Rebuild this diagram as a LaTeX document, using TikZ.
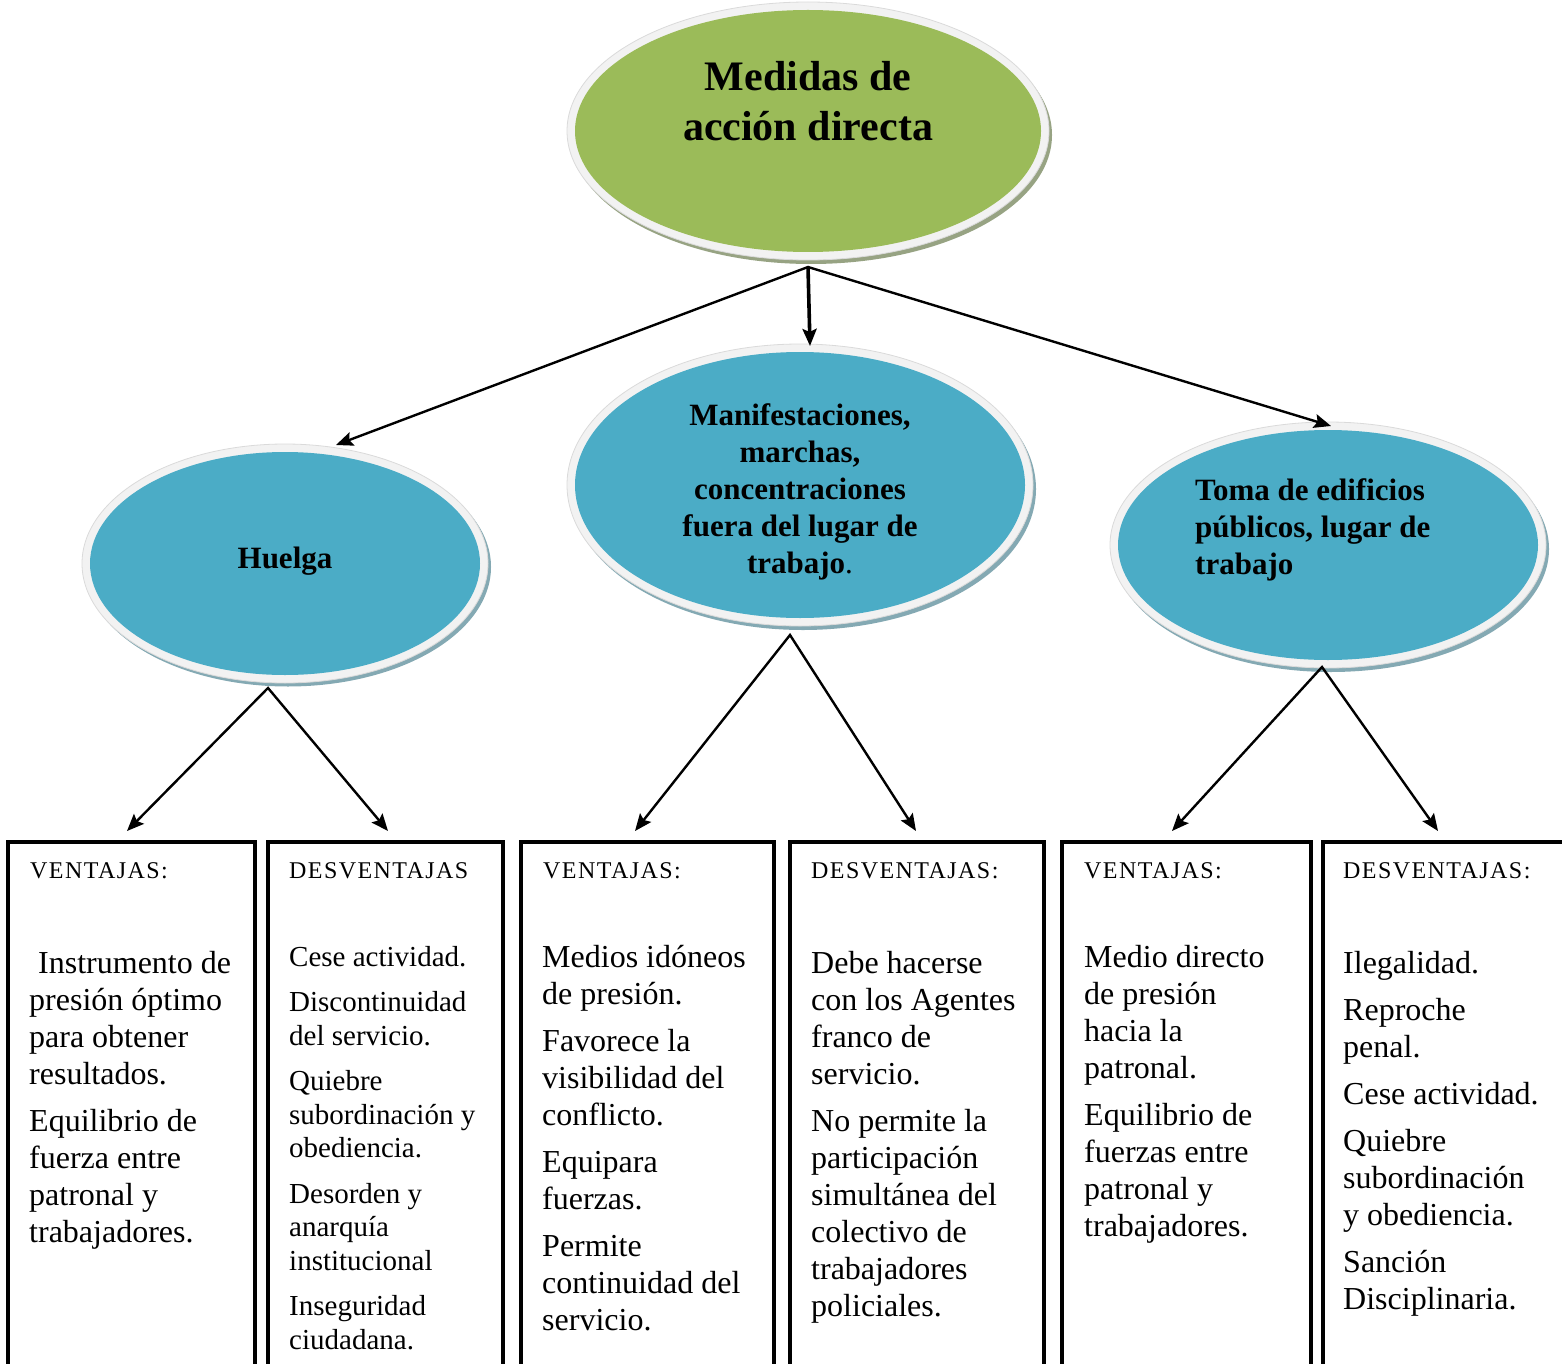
\documentclass[tikz,border=0pt]{standalone}
\usepackage{fontspec}
\setmainfont{Liberation Serif}
\newfontfamily\hdrfont[LetterSpace=6]{Liberation Serif}
\usetikzlibrary{shapes.geometric,arrows.meta,calc}
\definecolor{gfill}{HTML}{9BBB59}
\definecolor{bfill}{HTML}{4BACC6}
\definecolor{rimc}{HTML}{F2F2F2}
\definecolor{rimedge}{HTML}{DADADA}
\definecolor{gshad}{HTML}{97A383}
\definecolor{bshad}{HTML}{84A9B3}
\tikzset{
  oval/.style={ellipse, inner sep=0pt, draw=none},
  panel/.style={rectangle, draw=black, line width=4pt, inner sep=0pt, outer sep=0pt, anchor=north west, minimum height=560pt},
  hdr/.style={anchor=base west, inner sep=0pt, font=\hdrfont\fontsize{24}{28}\selectfont},
  body/.style={anchor=north west, inner sep=0pt, align=left, font=\fontsize{32}{37}\selectfont},
  title/.style={inner sep=0pt, align=center, font=\bfseries\fontsize{31}{37}\selectfont},
  tipk/.tip={Stealth[length=17pt,width=14pt,inset=3pt]},
  conn/.style={line width=2.4pt, line join=miter},
}
\begin{document}
\begin{tikzpicture}[x=1pt,y=-1pt]
\useasboundingbox (0,0) rectangle (1562,1364);
\clip (0,0) rectangle (1562,1364);

% ---- top ellipse
\fill[gshad] (811,135) ellipse [x radius=241, y radius=129];
\filldraw[fill=rimc, draw=rimedge, line width=0.8pt] (808,131) ellipse [x radius=241, y radius=129];
\node[oval, fill=gfill, minimum width=466pt, minimum height=242pt] (top) at (808,131) {};
\node[title, font=\bfseries\fontsize{42}{50}\selectfont, anchor=north] (toptxt) at (808,55) {\strut Medidas de\\acción directa};

% ---- Huelga
\fill[bshad] (288,567) ellipse [x radius=203, y radius=119.5];
\filldraw[fill=rimc, draw=rimedge, line width=0.8pt] (285,563.5) ellipse [x radius=203, y radius=119.5];
\node[oval, fill=bfill, minimum width=390pt, minimum height=223pt] (hue) at (285,563.5) {};
\node[title, anchor=base] (huetxt) at (285,568) {Huelga};

% ---- Manifestaciones
\fill[bshad] (803,489) ellipse [x radius=233, y radius=141];
\filldraw[fill=rimc, draw=rimedge, line width=0.8pt] (800,485) ellipse [x radius=233, y radius=141];
\node[oval, fill=bfill, minimum width=450pt, minimum height=266pt] (man) at (800,485) {};
\node[title, anchor=north] (mantxt) at (800,399) {\strut Manifestaciones,\\marchas,\\concentraciones\\fuera del lugar de\\trabajo{\mdseries .}};

% ---- Toma de edificios
\fill[bshad] (1331,549) ellipse [x radius=218, y radius=123];
\filldraw[fill=rimc, draw=rimedge, line width=0.8pt] (1328,545) ellipse [x radius=218, y radius=123];
\node[oval, fill=bfill, minimum width=420pt, minimum height=230pt] (tom) at (1328,545) {};
\node[title, anchor=north west, align=left] (tomtxt) at (1195,474) {\strut Toma de edificios\\públicos, lugar de\\trabajo};

% ---- connector points
\coordinate (topS) at (808,267);
\coordinate (hueT) at (336,445);
\coordinate (manT) at (810,346);
\coordinate (tomT) at (1331,426);
\coordinate (hueS) at (268,688);
\coordinate (manS) at (790,635);
\coordinate (tomS) at (1322,667);
\coordinate (b1T) at (127,831);
\coordinate (b2T) at (388,831);
\coordinate (b3T) at (635,831);
\coordinate (b4T) at (916,831);
\coordinate (b5T) at (1172,831);
\coordinate (b6T) at (1438,831);

\draw[conn, {tipk}-{tipk}] (hueT) -- (topS) -- (tomT);
\draw[conn, line width=3.6pt, -{tipk}] (topS) -- (manT);
\draw[conn, {tipk}-{tipk}] (b1T) -- (hueS) -- (b2T);
\draw[conn, {tipk}-{tipk}] (b3T) -- (manS) -- (b4T);
\draw[conn, {tipk}-{tipk}] (b5T) -- (tomS) -- (b6T);

% ---- panels
\node[panel, minimum width=247pt] (b1) at (8,842) {};
\node[panel, minimum width=235pt] (b2) at (268,842) {};
\node[panel, minimum width=253pt] (b3) at (521,842) {};
\node[panel, minimum width=254pt] (b4) at (790,842) {};
\node[panel, minimum width=249pt] (b5) at (1062,842) {};
\node[panel, minimum width=257pt] (b6) at (1323,842) {};

% ---- headers
\node[hdr] (h1) at (30,878) {VENTAJAS:};
\node[hdr] (h2) at (289,878) {DESVENTAJAS};
\node[hdr] (h3) at (543,878) {VENTAJAS:};
\node[hdr] (h4) at (811,878) {DESVENTAJAS:};
\node[hdr] (h5) at (1084,878) {VENTAJAS:};
\node[hdr] (h6) at (1343,878) {DESVENTAJAS:};

% ---- bodies
\node[body] (t1) at (29,947) {\strut\hspace*{9pt}Instrumento de\\presión óptimo\\para obtener\\resultados.\\[10pt]Equilibrio de\\fuerza entre\\patronal y\\trabajadores.};
\node[body, font=\fontsize{29}{33.5}\selectfont] (t2) at (289,942.5) {\strut Cese actividad.\\[12pt]Discontinuidad\\del servicio.\\[12pt]Quiebre\\subordinación y\\obediencia.\\[12pt]Desorden y\\anarquía\\institucional\\[12pt]Inseguridad\\ciudadana.};
\node[body] (t3) at (542,941) {\strut Medios idóneos\\de presión.\\[10pt]Favorece la\\visibilidad del\\conflicto.\\[10pt]Equipara\\fuerzas.\\[10pt]Permite\\continuidad del\\servicio.};
\node[body] (t4) at (811,947) {\strut Debe hacerse\\con los Agentes\\franco de\\servicio.\\[10pt]No permite la\\participación\\simultánea del\\colectivo de\\trabajadores\\policiales.};
\node[body] (t5) at (1084,941) {\strut Medio directo\\de presión\\hacia la\\patronal.\\[10pt]Equilibrio de\\fuerzas entre\\patronal y\\trabajadores.};
\node[body] (t6) at (1343,947) {\strut Ilegalidad.\\[10pt]Reproche\\penal.\\[10pt]Cese actividad.\\[10pt]Quiebre\\subordinación\\y obediencia.\\[10pt]Sanción\\Disciplinaria.};
\end{tikzpicture}
\end{document}
